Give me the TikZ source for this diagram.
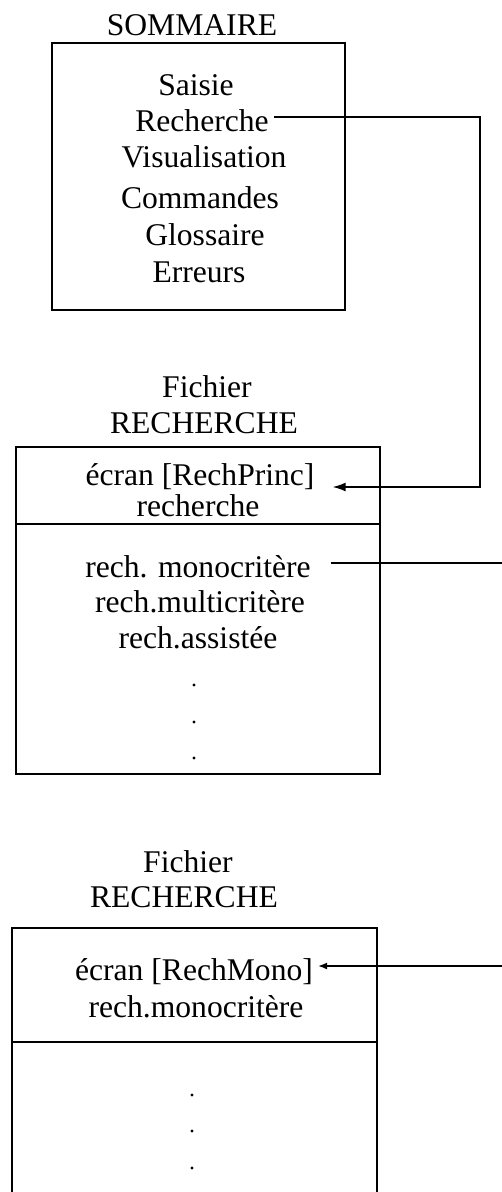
\documentclass[tikz,border=0pt]{standalone}
\usepackage{fontspec}
\setmainfont{Liberation Serif}
\usetikzlibrary{arrows.meta,calc}
\begin{document}
\begin{tikzpicture}[x=1pt,y=-1pt,
  txt/.style={font=\fontsize{31.6}{37}\selectfont, inner sep=0pt, anchor=base},
  frame/.style={draw, line width=1.8pt},
  link/.style={line width=1.5pt},
  tipped/.style={-{Latex[length=13pt,width=9pt]}},
  dotmark/.style={circle, fill, inner sep=0pt, minimum size=3.4pt}]
\useasboundingbox (0,0) rectangle (502,1192);

% Box 1 : SOMMAIRE
\node[txt] (t1) at (192,35) {SOMMAIRE};
\draw[frame] (52,43) rectangle (345,310);
\node[txt] (saisie) at (196,95) {Saisie};
\node[txt] (rech) at (202,131) {Recherche};
\node[txt] (visu) at (204,167) {Visualisation};
\node[txt] (comm) at (200,208) {Commandes};
\node[txt] (gloss) at (205,245) {Glossaire};
\node[txt] (err) at (199,282) {Erreurs};

% Box 2 : Fichier RECHERCHE
\node[txt] (f2a) at (207,397) {Fichier};
\node[txt] (f2b) at (204,433) {RECHERCHE};
\draw[frame] (16,447) rectangle (380,774);
\draw[frame] (16,524) -- (380,524);
\node[txt] (ecran1) at (200,485) {écran [RechPrinc]};
\node[txt] (recherche) at (198,516) {recherche};
\node[txt] (mono) at (198,577) {rech. monocritère};
\node[txt] (multi) at (200,612) {rech.multicritère};
\node[txt] (assist) at (198,648) {rech.assistée};
\node[dotmark] (d1) at (194,685) {};
\node[dotmark] (d2) at (194,722) {};
\node[dotmark] (d3) at (194,758) {};

% Box 3 : Fichier RECHERCHE
\node[txt] (f3a) at (188,872) {Fichier};
\node[txt] (f3b) at (184,907) {RECHERCHE};
\draw[frame] (12,1200) -- (12,928) -- (377,928) -- (377,1200);
\draw[frame] (12,1042) -- (377,1042);
\node[txt] (ecran2) at (194,980) {écran [RechMono]};
\node[txt] (mono2) at (196,1017) {rech.monocritère};
\node[dotmark] (e1) at (192,1095) {};
\node[dotmark] (e2) at (192,1131) {};
\node[dotmark] (e3) at (192,1168) {};

% Connectors
\coordinate (a0) at ($(rech.base east)+(5,-14)$);
\coordinate (a1) at ($(ecran1.base east)+(18,2)$);
\draw[link,tipped] (a0) -- (480,117) -- (480,487) -- (a1);

\coordinate (b0) at ($(mono.base east)+(20,-14)$);
\coordinate (b1) at (502,563);
\draw[link] (b0) -- (b1);

\coordinate (c0) at (502,966);
\coordinate (c1) at ($(ecran2.base east)+(5,-14)$);
\draw[link,-{Latex[length=9pt,width=7pt]}] (c0) -- (c1);
\end{tikzpicture}
\end{document}
